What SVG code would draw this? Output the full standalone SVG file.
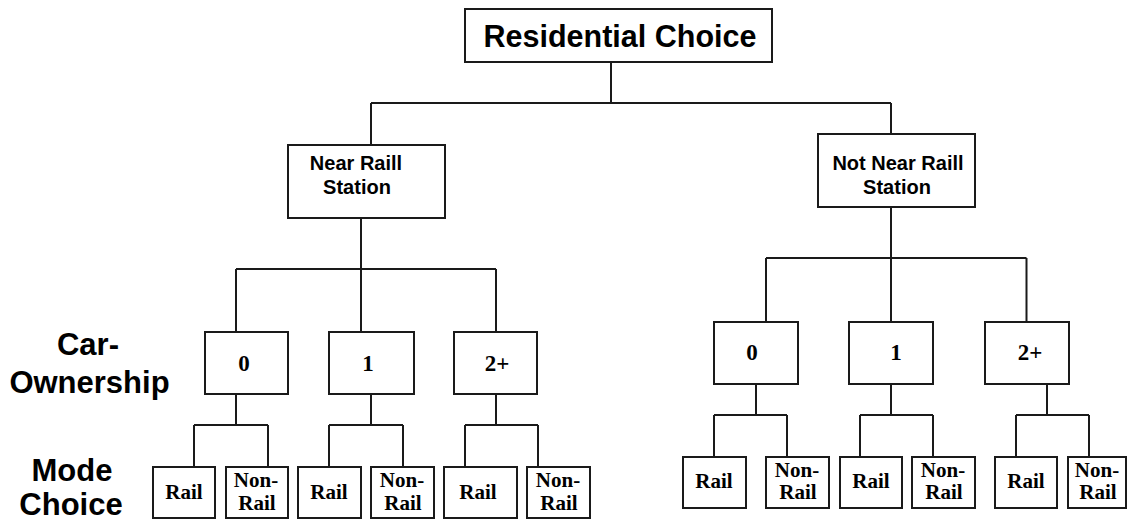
<svg xmlns="http://www.w3.org/2000/svg" width="1127" height="520" viewBox="0 0 1127 520">
<style>
.box{fill:#fff;stroke:#1a1a1a;stroke-width:2}
.ln{fill:none;stroke:#1a1a1a;stroke-width:2}
.sans{font-family:"Liberation Sans",Arial,sans-serif;font-weight:bold;fill:#000;text-anchor:middle}
.serif{font-family:"Liberation Serif","Times New Roman",serif;font-weight:bold;fill:#000;text-anchor:middle}
.t1{font-size:30.5px}
.t2{font-size:20px}
.lab{font-size:31px}
.num{font-size:23px}
.leaf{font-size:21px}
</style>
<rect width="1127" height="520" fill="#fff"/>
<g id="connectors" class="ln">
<path d="M611 62V103M371 103H891M371 103V145M891 103V134"/>
<path d="M361 218V269M236 269H496M236 269V332M361 269V332M496 269V332"/>
<path d="M891 207V258M766 258H1026.5M766 258V322M891 258V322M1026.5 258V322"/>
<path d="M236 394V425M194 425H268M194 425V467M268 425V467"/>
<path d="M371 394V425M329 425H403M329 425V467M403 425V467"/>
<path d="M496 394V425M465 425H538M465 425V467M538 425V467"/>
<path d="M756 384V415M714 415H787M714 415V457M787 415V457"/>
<path d="M891 384V415M860 415H933M860 415V457M933 415V457"/>
<path d="M1047 384V415M1016 415H1089M1016 415V457M1089 415V457"/>
</g>
<g id="residential"><rect class="box" x="465" y="9" width="307" height="53"/><text class="sans t1" x="620" y="47">Residential Choice</text></g>
<g id="near"><rect class="box" x="288" y="145" width="157" height="73"/><text class="sans t2" x="356" y="170">Near Raill</text><text class="sans t2" x="357" y="194">Station</text></g>
<g id="notnear"><rect class="box" x="818" y="134" width="157" height="73"/><text class="sans t2" x="898" y="170">Not Near Raill</text><text class="sans t2" x="897" y="194">Station</text></g>
<g id="label-car"><text class="sans lab" x="88" y="355">Car-</text><text class="sans lab" x="89.5" y="393">Ownership</text></g>
<g id="label-mode"><text class="sans lab" x="72" y="481">Mode</text><text class="sans lab" x="71" y="515">Choice</text></g>
<g id="n-l0"><rect class="box" x="205" y="332" width="83" height="62"/><text class="serif num" x="244" y="371">0</text></g>
<g id="n-l1"><rect class="box" x="329" y="332" width="85" height="62"/><text class="serif num" x="368" y="371">1</text></g>
<g id="n-l2"><rect class="box" x="454" y="332" width="83" height="62"/><text class="serif num" x="497" y="371">2+</text></g>
<g id="n-r0"><rect class="box" x="714" y="322" width="84" height="62"/><text class="serif num" x="752" y="360">0</text></g>
<g id="n-r1"><rect class="box" x="849" y="322" width="84" height="62"/><text class="serif num" x="896" y="360">1</text></g>
<g id="n-r2"><rect class="box" x="985" y="322" width="84" height="62"/><text class="serif num" x="1030" y="360">2+</text></g>
<g id="l0-rail"><rect class="box" x="153" y="467" width="62" height="51"/><text class="serif leaf" x="184" y="499">Rail</text></g>
<g id="l0-non"><rect class="box" x="226" y="467" width="62" height="51"/><text class="serif leaf" x="256" y="487">Non-</text><text class="serif leaf" x="257" y="510">Rail</text></g>
<g id="l1-rail"><rect class="box" x="298" y="467" width="63" height="51"/><text class="serif leaf" x="329" y="499">Rail</text></g>
<g id="l1-non"><rect class="box" x="371" y="467" width="63" height="51"/><text class="serif leaf" x="402" y="487">Non-</text><text class="serif leaf" x="403" y="510">Rail</text></g>
<g id="l2-rail"><rect class="box" x="444" y="467" width="73" height="51"/><text class="serif leaf" x="478" y="499">Rail</text></g>
<g id="l2-non"><rect class="box" x="527" y="467" width="63" height="51"/><text class="serif leaf" x="558" y="487">Non-</text><text class="serif leaf" x="559" y="510">Rail</text></g>
<g id="r0-rail"><rect class="box" x="683" y="457" width="63" height="51"/><text class="serif leaf" x="714" y="488">Rail</text></g>
<g id="r0-non"><rect class="box" x="766" y="457" width="63" height="51"/><text class="serif leaf" x="797" y="477">Non-</text><text class="serif leaf" x="798" y="499">Rail</text></g>
<g id="r1-rail"><rect class="box" x="840" y="457" width="62" height="51"/><text class="serif leaf" x="871" y="488">Rail</text></g>
<g id="r1-non"><rect class="box" x="912" y="457" width="63" height="51"/><text class="serif leaf" x="943" y="477">Non-</text><text class="serif leaf" x="944" y="499">Rail</text></g>
<g id="r2-rail"><rect class="box" x="995" y="457" width="62" height="51"/><text class="serif leaf" x="1026" y="488">Rail</text></g>
<g id="r2-non"><rect class="box" x="1068" y="457" width="58" height="51"/><text class="serif leaf" x="1097" y="477">Non-</text><text class="serif leaf" x="1098" y="499">Rail</text></g>
</svg>
